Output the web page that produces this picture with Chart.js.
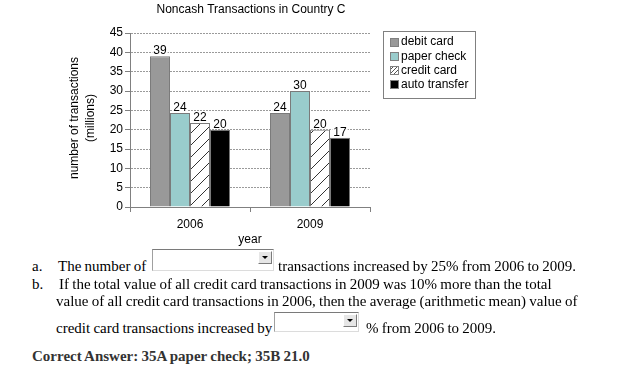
<!DOCTYPE html>
<html>
<head>
<meta charset="utf-8">
<script src="https://cdn.jsdelivr.net/npm/chart.js@4.4.1/dist/chart.umd.min.js"></script>
<style>
html,body{margin:0;padding:0;background:#fff;}
body{width:620px;height:372px;position:relative;overflow:hidden;font-family:"Liberation Serif","Times New Roman",serif;font-size:15px;color:#000;}
#c{position:absolute;left:0;top:0;}
.ln{position:absolute;white-space:nowrap;line-height:18px;word-spacing:-0.5px;}
.sel{position:absolute;background:#fff;box-sizing:border-box;border-top:1px solid #7a7a7a;border-left:1px solid #a0a0a0;border-right:1px solid #dcdcdc;border-bottom:1px solid #dcdcdc;}
.btn{position:absolute;right:1px;top:1px;width:14px;height:13px;background:#e6e6e6;box-sizing:border-box;border:1px solid;border-color:#fff #7a7a7a #7a7a7a #fff;}
.btn:after{content:"";position:absolute;left:3px;top:4px;border-left:3px solid transparent;border-right:3px solid transparent;border-top:3px solid #000;}
.ans{font-weight:bold;color:#333;}
</style>
</head>
<body>
<canvas id="c" width="620" height="255"></canvas>

<div class="ln" style="left:32px;top:257px">a.</div>
<div class="ln" style="left:58px;top:257px">The number of</div>
<div class="sel" style="left:152px;top:249px;width:122px;height:22px"><div class="btn"></div></div>
<div class="ln" style="left:278px;top:257px">transactions increased by 25% from 2006 to 2009.</div>

<div class="ln" style="left:32px;top:275px">b.</div>
<div class="ln" style="left:59px;top:275px">If the total value of all credit card transactions in 2009 was 10% more than the total</div>
<div class="ln" style="left:56px;top:292px">value of all credit card transactions in 2006, then the average (arithmetic mean) value of</div>
<div class="ln" style="left:56px;top:319px">credit card transactions increased by</div>
<div class="sel" style="left:274px;top:312px;width:85px;height:20px"><div class="btn"></div></div>
<div class="ln" style="left:366px;top:319px">% from 2006 to 2009.</div>

<div class="ln ans" style="left:32px;top:347px">Correct Answer: 35A paper check; 35B 21.0</div>

<script>
// ---- data ----
const categories = ['2006', '2009'];
const seriesNames = ['debit card', 'paper check', 'credit card', 'auto transfer'];
const debitCard = [39, 24.3];
const paperCheck = [24.3, 30];
const creditCard = [21.7, 20];
const autoTransfer = [20, 17.9];
const debitLabels = ['39', '24'];
const paperLabels = ['24', '30'];
const creditLabels = ['22', '20'];
const autoLabels = ['20', '17'];
const yMin = 0, yMax = 45, yStep = 5;
const chartTitle = 'Noncash Transactions in Country C';
const yTitle = ['number of transactions', '(millions)'];
const xTitle = 'year';

const SANS = '"Liberation Sans", Arial, sans-serif';
const canvas = document.getElementById('c');
const ctx0 = canvas.getContext('2d');

function makeHatch(size, color) {
  const c = document.createElement('canvas');
  c.width = size; c.height = size;
  const g = c.getContext('2d');
  g.fillStyle = '#fff'; g.fillRect(0, 0, size, size);
  g.strokeStyle = color; g.lineWidth = 1;
  g.beginPath();
  g.moveTo(-1, size + 1); g.lineTo(size + 1, -1);
  g.moveTo(-1, 1); g.lineTo(1, -1);
  g.moveTo(size - 1, size + 1); g.lineTo(size + 1, size - 1);
  g.stroke();
  return ctx0.createPattern(c, 'repeat');
}
const hatchBig = makeHatch(12, '#333');
const hatchSmall = makeHatch(4, '#555');

const fills = ['#999999', '#99cccc', hatchBig, '#000000'];
const legendFills = ['#999999', '#99cccc', hatchSmall, '#000000'];

const customPlugin = {
  id: 'custom',
  afterDatasetsDraw(chart) {
    const ctx = chart.ctx;
    ctx.save();
    ctx.font = '12px ' + SANS;
    ctx.textAlign = 'center';
    ctx.textBaseline = 'alphabetic';
    chart.data.datasets.forEach((ds, i) => {
      const meta = chart.getDatasetMeta(i);
      meta.data.forEach((bar, j) => {
        const t = ds.valueLabels[j];
        const w = ctx.measureText(t).width;
        const yb = bar.y - 2;
        ctx.fillStyle = '#fff';
        ctx.fillRect(bar.x - w / 2 - 1, yb - 10, w + 2, 10);
        ctx.fillStyle = '#000';
        ctx.fillText(t, bar.x, yb);
      });
    });
    ctx.restore();
  },
  afterDraw(chart) {
    const ctx = chart.ctx;
    const a = chart.chartArea;
    const cx = (a.left + a.right) / 2;
    ctx.save();
    ctx.fillStyle = '#000';
    ctx.font = '12px ' + SANS;
    ctx.textAlign = 'center';
    ctx.textBaseline = 'middle';
    // title
    ctx.fillText(chartTitle, cx + 1, 10);
    // x title
    ctx.fillText(xTitle, cx, 240);
    // y title
    const cy = (a.top + a.bottom) / 2;
    ctx.save();
    ctx.translate(75, cy - 2);
    ctx.rotate(-Math.PI / 2);
    ctx.fillText(yTitle[0], 0, 0);
    ctx.fillText(yTitle[1], 0, 16);
    ctx.restore();
    // legend
    const lx = 383, ly = 31, lw = 92, lh = 67;
    ctx.strokeStyle = '#808080';
    ctx.lineWidth = 1;
    ctx.strokeRect(lx + 0.5, ly + 0.5, lw, lh);
    ctx.textAlign = 'left';
    chart.data.datasets.forEach((ds, i) => {
      const y = 42 + i * 14.3;
      const sx = 390, sy = Math.round(y - 4.5);
      ctx.fillStyle = legendFills[i];
      ctx.fillRect(sx, sy, 9, 9);
      ctx.strokeStyle = '#808080';
      ctx.strokeRect(sx + 0.5, sy + 0.5, 8, 8);
      ctx.fillStyle = '#000';
      ctx.fillText(ds.label, 401, y);
    });
    ctx.restore();
  }
};

const labelSets = [debitLabels, paperLabels, creditLabels, autoLabels];
const valueSets = [debitCard, paperCheck, creditCard, autoTransfer];

new Chart(canvas, {
  type: 'bar',
  data: {
    labels: categories,
    datasets: seriesNames.map((name, i) => ({
      label: name,
      data: valueSets[i],
      valueLabels: labelSets[i],
      backgroundColor: fills[i],
      borderColor: '#7a7a7a',
      borderWidth: 1,
      categoryPercentage: 0.667,
      barPercentage: 1.0
    }))
  },
  options: {
    responsive: false,
    animation: false,
    devicePixelRatio: 1,
    layout: { padding: { left: 0, right: 250, top: 33, bottom: 0 } },
    plugins: {
      legend: { display: false },
      title: { display: false },
      tooltip: { enabled: false }
    },
    scales: {
      x: {
        afterFit(s) { s.height = 48; },
        grid: { display: true, drawOnChartArea: false, drawTicks: true, tickLength: 5, color: '#808080', tickColor: '#808080', offset: true },
        border: { color: '#808080', width: 1 },
        ticks: { color: '#000', font: { family: SANS, size: 12 }, padding: 5 }
      },
      y: {
        min: yMin, max: yMax,
        afterFit(s) { s.width = 130; },
        grid: { color: '#9a9a9a', lineWidth: 1, drawTicks: true, tickLength: 5, tickColor: '#808080' },
        border: { color: '#808080', width: 1, dash: [2, 1] },
        ticks: { stepSize: yStep, color: '#000', font: { family: SANS, size: 12 }, padding: 2 }
      }
    }
  },
  plugins: [customPlugin]
});
</script>
</body>
</html>
